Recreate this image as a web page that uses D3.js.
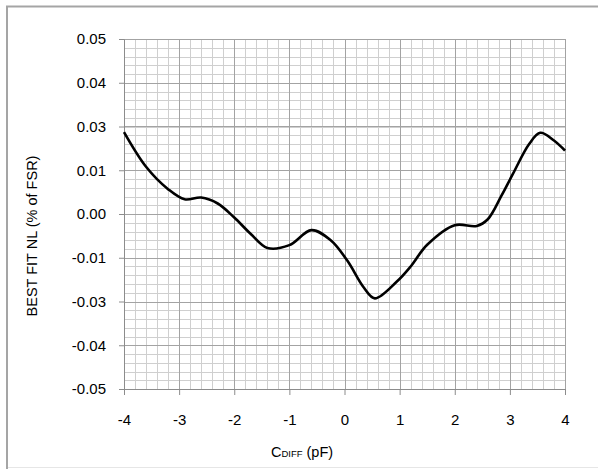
<!DOCTYPE html>
<html>
<head>
<meta charset="utf-8">
<script src="https://cdn.jsdelivr.net/npm/d3@7"></script>
<style>
  body { margin: 0; background: #fff; }
  svg { display: block; }
  text { font-family: "Liberation Sans", Arial, sans-serif; fill: #000; }
</style>
</head>
<body>
<div id="wrapper"></div>
<script>
// C_DIFF (pF) and best fit NL (% of FSR)
const cdiff = [-4.0, -3.6, -3.2, -2.9, -2.6, -2.3, -2.0, -1.7, -1.4, -1.0, -0.6, -0.25, 0.05, 0.35, 0.55, 0.95, 1.2, 1.5, 2.0, 2.4, 2.6, 2.85, 3.05, 3.35, 3.55, 3.8, 4.0]
const nl = [0.0234, 0.0135, 0.0071, 0.0042, 0.0047, 0.0030, -0.0010, -0.0057, -0.0097, -0.0089, -0.0046, -0.0075, -0.0133, -0.0210, -0.0241, -0.0193, -0.0150, -0.0088, -0.0032, -0.0034, -0.0015, 0.0053, 0.0113, 0.0200, 0.0232, 0.0210, 0.0181]

const xTicks = [-4, -3, -2, -1, 0, 1, 2, 3, 4]
const yTicks = [0.05, 0.0375, 0.025, 0.0125, 0, -0.0125, -0.025, -0.0375, -0.05]
const yTickLabels = ["0.05", "0.04", "0.03", "0.01", "0.00", "-0.01", "-0.03", "-0.04", "-0.05"]

const width = 598
const height = 469
let dimensions = {
  width: width,
  height: height,
  margin: { top: 39, right: 33, bottom: 80, left: 124 }
}
dimensions.boundedWidth = dimensions.width - dimensions.margin.left - dimensions.margin.right
dimensions.boundedHeight = dimensions.height - dimensions.margin.top - dimensions.margin.bottom

const wrapper = d3.select("#wrapper")
  .append("svg")
    .attr("width", dimensions.width)
    .attr("height", dimensions.height)

// chart area border
wrapper.append("path")
  .attr("d", `M7,${height} V6.5 H${width}`)
  .attr("fill", "none")
  .attr("stroke", "#a5a5a5")
  .attr("stroke-width", 2)
wrapper.append("line")
  .attr("x1", 8).attr("x2", width)
  .attr("y1", 467.5).attr("y2", 467.5)
  .attr("stroke", "#e6e6e6")

const bounds = wrapper.append("g")
  .attr("transform", `translate(${dimensions.margin.left}, ${dimensions.margin.top})`)

const xScale = d3.scaleLinear()
  .domain([-4, 4])
  .range([0, dimensions.boundedWidth])

const yScale = d3.scaleLinear()
  .domain([-0.05, 0.05])
  .range([dimensions.boundedHeight, 0])

// minor grid: 5 steps per major interval
const xMinor = d3.range(0, 41).map(i => -4 + i * 0.2)
const yMinor = d3.range(0, 41).map(i => -0.05 + i * 0.0025)

bounds.append("g").selectAll("line")
  .data(xMinor)
  .enter().append("line")
    .attr("x1", d => Math.round(xScale(d)) + 0.5)
    .attr("x2", d => Math.round(xScale(d)) + 0.5)
    .attr("y1", 0)
    .attr("y2", dimensions.boundedHeight)
    .attr("stroke", "#cfcfcf")
bounds.append("g").selectAll("line")
  .data(yMinor)
  .enter().append("line")
    .attr("y1", d => Math.round(yScale(d)) + 0.5)
    .attr("y2", d => Math.round(yScale(d)) + 0.5)
    .attr("x1", 0)
    .attr("x2", dimensions.boundedWidth)
    .attr("stroke", "#cfcfcf")

// major grid
bounds.append("g").selectAll("line")
  .data(xTicks)
  .enter().append("line")
    .attr("x1", d => Math.round(xScale(d)) + 0.5)
    .attr("x2", d => Math.round(xScale(d)) + 0.5)
    .attr("y1", 0)
    .attr("y2", dimensions.boundedHeight)
    .attr("stroke", "#a3a3a3")
bounds.append("g").selectAll("line")
  .data(yTicks)
  .enter().append("line")
    .attr("y1", d => Math.round(yScale(d)) + 0.5)
    .attr("y2", d => Math.round(yScale(d)) + 0.5)
    .attr("x1", 0)
    .attr("x2", dimensions.boundedWidth)
    .attr("stroke", "#a3a3a3")

// axes
const yAxis = d3.axisLeft(yScale)
  .tickValues(yTicks)
  .tickSize(5)
  .tickPadding(13)
  .tickFormat((d, i) => yTickLabels[i])
const yAxisGroup = bounds.append("g").call(yAxis)

const xAxis = d3.axisBottom(xScale)
  .tickValues(xTicks)
  .tickSize(6)
  .tickPadding(19)
  .tickFormat(d => d)
const xAxisGroup = bounds.append("g")
  .attr("transform", `translate(0, ${dimensions.boundedHeight})`)
  .call(xAxis)

;[yAxisGroup, xAxisGroup].forEach(g => {
  g.select(".domain").attr("stroke", "#8c8c8c")
  g.selectAll(".tick line").attr("stroke", "#8c8c8c")
  g.selectAll(".tick text")
    .attr("font-size", 15)
    .attr("font-family", "'Liberation Sans', Arial, sans-serif")
    .attr("fill", "#000")
})

// the curve
const points = cdiff.map((c, i) => [c, nl[i]])
const lineGenerator = d3.line()
  .x(d => xScale(d[0]))
  .y(d => yScale(d[1]))
  .curve(d3.curveCatmullRom.alpha(0.5))

bounds.append("path")
  .attr("d", lineGenerator(points))
  .attr("fill", "none")
  .attr("stroke", "#000")
  .attr("stroke-width", 2.6)
  .attr("stroke-linejoin", "round")

// axis titles
wrapper.append("text")
  .attr("transform", "translate(37, 236) rotate(-90)")
  .attr("text-anchor", "middle")
  .attr("font-size", 14.5)
  .text("BEST FIT NL (% of FSR)")

const xTitle = wrapper.append("text")
  .attr("x", 302)
  .attr("y", 457)
  .attr("text-anchor", "middle")
  .attr("font-size", 14.5)
xTitle.append("tspan").text("C")
xTitle.append("tspan").attr("font-size", 9.5).text("DIFF")
xTitle.append("tspan").text(" (pF)")
</script>
</body>
</html>
